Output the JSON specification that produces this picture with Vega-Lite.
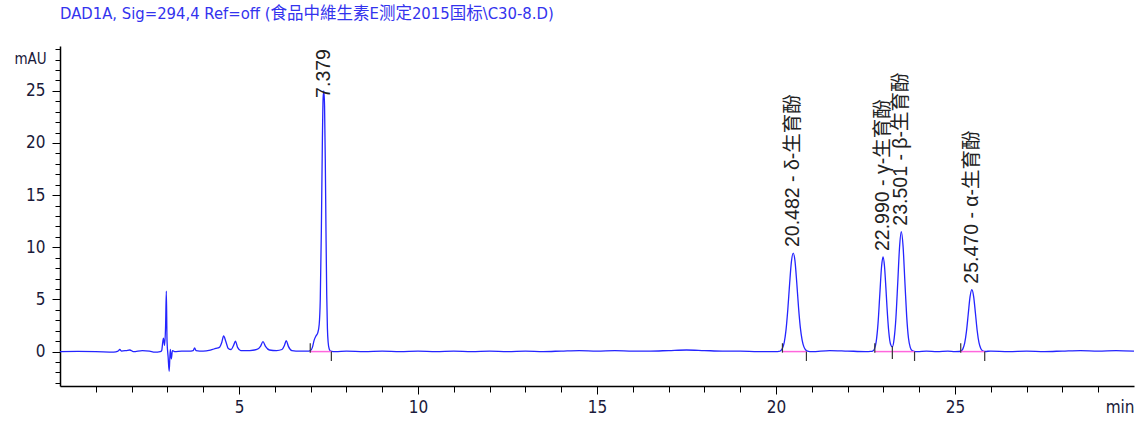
{
  "$schema": "https://vega.github.io/schema/vega-lite/v6.json",
  "autosize": {"type": "none"},
  "width": 1074,
  "height": 340,
  "padding": {"left": 60, "top": 46, "right": 3, "bottom": 36},
  "background": "white",
  "title": {
    "text": "DAD1A, Sig=294,4 Ref=off (食品中維生素E测定2015国标\\C30-8.D)",
    "anchor": "start",
    "frame": "group",
    "offset": 18,
    "color": "#3333ee",
    "font": "'Liberation Sans Narrow', 'DejaVu Sans Condensed', 'Noto Sans CJK SC', sans-serif",
    "fontSize": 16.5,
    "fontWeight": "normal"
  },
  "config": {
    "view": {"stroke": null},
    "axis": {
      "domainColor": "#000000",
      "domainWidth": 1.5,
      "tickColor": "#000000",
      "tickWidth": 1,
      "grid": false,
      "labelFont": "'Liberation Sans Narrow', 'DejaVu Sans Condensed', sans-serif",
      "labelFontSize": 17,
      "labelColor": "#1a1a3a",
      "labelOverlap": false
    }
  },
  "datasets": {
    "signal": [
      {"t": 0.00, "v": 0.0}, {"t": 0.50, "v": 0.02}, {"t": 1.00, "v": 0.0}, {"t": 1.50, "v": -0.05},
      {"t": 1.62, "v": 0.05}, {"t": 1.67, "v": 0.2}, {"t": 1.72, "v": 0.05}, {"t": 1.85, "v": 0.1},
      {"t": 1.95, "v": 0.15}, {"t": 2.05, "v": 0.0}, {"t": 2.30, "v": 0.1}, {"t": 2.50, "v": 0.05},
      {"t": 2.65, "v": -0.05}, {"t": 2.80, "v": 0.0}, {"t": 2.84, "v": 0.1}, {"t": 2.87, "v": 0.9},
      {"t": 2.89, "v": 1.3}, {"t": 2.92, "v": 0.6}, {"t": 2.95, "v": 2.5}, {"t": 2.97, "v": 5.8},
      {"t": 2.99, "v": 1.0}, {"t": 3.02, "v": -0.5}, {"t": 3.05, "v": -1.9}, {"t": 3.08, "v": 0.2},
      {"t": 3.11, "v": -0.7}, {"t": 3.14, "v": 0.1}, {"t": 3.20, "v": 0.0}, {"t": 3.40, "v": 0.05},
      {"t": 3.60, "v": 0.05}, {"t": 3.72, "v": 0.1}, {"t": 3.76, "v": 0.35}, {"t": 3.80, "v": 0.1},
      {"t": 4.00, "v": 0.05}, {"t": 4.20, "v": 0.15}, {"t": 4.35, "v": 0.3}, {"t": 4.45, "v": 0.4},
      {"t": 4.52, "v": 0.9}, {"t": 4.57, "v": 1.5}, {"t": 4.63, "v": 1.0}, {"t": 4.70, "v": 0.3},
      {"t": 4.78, "v": 0.2}, {"t": 4.85, "v": 0.6}, {"t": 4.90, "v": 1.0}, {"t": 4.96, "v": 0.4},
      {"t": 5.05, "v": 0.1}, {"t": 5.30, "v": 0.1}, {"t": 5.50, "v": 0.2}, {"t": 5.60, "v": 0.5},
      {"t": 5.67, "v": 0.95}, {"t": 5.74, "v": 0.5}, {"t": 5.85, "v": 0.15}, {"t": 6.05, "v": 0.1},
      {"t": 6.20, "v": 0.2}, {"t": 6.27, "v": 0.6}, {"t": 6.32, "v": 1.05}, {"t": 6.38, "v": 0.5},
      {"t": 6.48, "v": 0.1}, {"t": 6.70, "v": 0.05}, {"t": 6.95, "v": 0.05}, {"t": 7.00, "v": 0.1},
      {"t": 7.05, "v": 0.4}, {"t": 7.10, "v": 1.1}, {"t": 7.15, "v": 1.5}, {"t": 7.20, "v": 1.8},
      {"t": 7.24, "v": 2.6}, {"t": 7.27, "v": 5.0}, {"t": 7.30, "v": 11.5}, {"t": 7.33, "v": 20.5},
      {"t": 7.35, "v": 24.3}, {"t": 7.37, "v": 25.0}, {"t": 7.39, "v": 23.5}, {"t": 7.41, "v": 18.5},
      {"t": 7.43, "v": 11.5}, {"t": 7.45, "v": 5.5}, {"t": 7.47, "v": 2.2}, {"t": 7.49, "v": 0.9},
      {"t": 7.52, "v": 0.25}, {"t": 7.56, "v": 0.05}, {"t": 7.70, "v": 0.0}, {"t": 8.00, "v": 0.05},
      {"t": 8.50, "v": 0.0}, {"t": 9.00, "v": 0.05}, {"t": 9.50, "v": 0.0}, {"t": 10.00, "v": 0.05},
      {"t": 10.50, "v": 0.0}, {"t": 11.00, "v": 0.05}, {"t": 11.50, "v": 0.0}, {"t": 12.00, "v": 0.05},
      {"t": 12.50, "v": 0.0}, {"t": 13.00, "v": 0.05}, {"t": 13.50, "v": 0.0}, {"t": 14.00, "v": 0.05},
      {"t": 14.50, "v": 0.1}, {"t": 15.00, "v": 0.05}, {"t": 15.50, "v": 0.1}, {"t": 16.00, "v": 0.05},
      {"t": 16.50, "v": 0.05}, {"t": 17.00, "v": 0.1}, {"t": 17.50, "v": 0.15}, {"t": 18.00, "v": 0.1},
      {"t": 18.50, "v": 0.05}, {"t": 19.00, "v": 0.05}, {"t": 19.50, "v": 0.0}, {"t": 20.00, "v": 0.0},
      {"t": 20.08, "v": 0.02}, {"t": 20.13, "v": 0.09}, {"t": 20.18, "v": 0.32}, {"t": 20.23, "v": 0.89},
      {"t": 20.28, "v": 2.08}, {"t": 20.33, "v": 4.03}, {"t": 20.38, "v": 6.48}, {"t": 20.43, "v": 8.6},
      {"t": 20.48, "v": 9.45}, {"t": 20.53, "v": 8.7}, {"t": 20.58, "v": 6.6}, {"t": 20.63, "v": 4.2},
      {"t": 20.68, "v": 2.3}, {"t": 20.73, "v": 1.1}, {"t": 20.78, "v": 0.45}, {"t": 20.83, "v": 0.15},
      {"t": 20.88, "v": 0.05}, {"t": 21.00, "v": 0.0}, {"t": 21.50, "v": 0.1}, {"t": 22.00, "v": 0.05},
      {"t": 22.50, "v": 0.0}, {"t": 22.65, "v": 0.02}, {"t": 22.70, "v": 0.05}, {"t": 22.75, "v": 0.26},
      {"t": 22.80, "v": 0.98}, {"t": 22.85, "v": 2.7}, {"t": 22.90, "v": 5.5}, {"t": 22.95, "v": 8.2},
      {"t": 22.99, "v": 9.07}, {"t": 23.03, "v": 8.2}, {"t": 23.07, "v": 6.1}, {"t": 23.10, "v": 4.3},
      {"t": 23.15, "v": 1.9}, {"t": 23.20, "v": 0.7}, {"t": 23.25, "v": 0.45}, {"t": 23.30, "v": 1.25},
      {"t": 23.35, "v": 3.25}, {"t": 23.40, "v": 6.54}, {"t": 23.45, "v": 9.96}, {"t": 23.50, "v": 11.5},
      {"t": 23.55, "v": 10.06}, {"t": 23.60, "v": 6.7}, {"t": 23.65, "v": 3.4}, {"t": 23.70, "v": 1.3},
      {"t": 23.75, "v": 0.4}, {"t": 23.80, "v": 0.1}, {"t": 23.85, "v": 0.03}, {"t": 23.95, "v": 0.0},
      {"t": 24.20, "v": 0.05}, {"t": 24.50, "v": 0.0}, {"t": 24.80, "v": 0.05}, {"t": 25.00, "v": 0.0},
      {"t": 25.12, "v": 0.01}, {"t": 25.17, "v": 0.07}, {"t": 25.22, "v": 0.26}, {"t": 25.27, "v": 0.8},
      {"t": 25.32, "v": 1.93}, {"t": 25.37, "v": 3.6}, {"t": 25.42, "v": 5.24}, {"t": 25.47, "v": 5.94},
      {"t": 25.52, "v": 5.3}, {"t": 25.57, "v": 3.7}, {"t": 25.62, "v": 2.0}, {"t": 25.67, "v": 0.85},
      {"t": 25.72, "v": 0.3}, {"t": 25.77, "v": 0.08}, {"t": 25.84, "v": 0.01}, {"t": 26.00, "v": 0.05},
      {"t": 26.50, "v": 0.0}, {"t": 27.00, "v": 0.05}, {"t": 27.50, "v": 0.0}, {"t": 28.00, "v": 0.05},
      {"t": 28.50, "v": 0.1}, {"t": 29.00, "v": 0.05}, {"t": 29.50, "v": 0.1}, {"t": 30.00, "v": 0.05}
    ],
    "baselines": [
      {"start": 6.99, "end": 7.58},
      {"start": 20.18, "end": 20.85},
      {"start": 22.76, "end": 23.25},
      {"start": 23.25, "end": 23.87},
      {"start": 25.16, "end": 25.83}
    ],
    "marks": [
      {"t": 6.99, "lo": -0.1, "hi": 0.8},
      {"t": 7.58, "lo": -0.9, "hi": 0.0},
      {"t": 20.18, "lo": -0.1, "hi": 0.8},
      {"t": 20.85, "lo": -0.9, "hi": 0.0},
      {"t": 22.76, "lo": -0.1, "hi": 0.8},
      {"t": 23.25, "lo": -0.7, "hi": 0.5},
      {"t": 23.87, "lo": -0.9, "hi": 0.0},
      {"t": 25.16, "lo": -0.1, "hi": 0.8},
      {"t": 25.83, "lo": -0.9, "hi": 0.0}
    ],
    "labels": [
      {"t": 7.379, "h": 23.75, "label": "7.379"},
      {"t": 20.482, "h": 9.45, "label": "20.482 - δ-生育酚"},
      {"t": 22.99, "h": 9.07, "label": "22.990 - γ-生育酚"},
      {"t": 23.501, "h": 11.5, "label": "23.501 - β-生育酚"},
      {"t": 25.47, "h": 5.94, "label": "25.470 - α-生育酚"}
    ]
  },
  "layer": [
    {
      "data": {"name": "signal"},
      "mark": {"type": "line", "color": "#2424ff", "strokeWidth": 1.3, "interpolate": "monotone", "clip": true},
      "encoding": {
        "x": {
          "field": "t", "type": "quantitative",
          "scale": {"domain": [0, 30], "nice": false, "zero": false},
          "axis": {
            "title": null,
            "format": "d",
            "values": [1,2,3,4,5,6,7,8,9,10,11,12,13,14,15,16,17,18,19,20,21,22,23,24,25,26,27,28,29,30],
            "tickCount": 200,
            "tickSize": {"condition": {"test": "datum.value % 5 === 0", "value": 8}, "value": 6},
            "tickColor": {"condition": {"test": "datum.value === 30", "value": "transparent"}, "value": "#000000"},
            "labelExpr": "datum.value === 30 ? 'min' : (datum.value % 5 === 0 ? datum.label : '')",
            "labelAlign": {"condition": {"test": "datum.value === 30", "value": "right"}, "value": "center"},
            "labelPadding": 5,
            "labelFlush": false,
            "labelOverlap": false,
            "labelBound": false
          }
        },
        "y": {
          "field": "v", "type": "quantitative",
          "scale": {"domain": [-3.3, 29.3], "nice": false, "zero": false},
          "axis": {
            "title": "mAU",
            "titleAngle": 0,
            "titleX": -30,
            "titleY": 12,
            "titleAlign": "center",
            "titleBaseline": "middle",
            "titleFont": "'Liberation Sans Narrow', 'DejaVu Sans Condensed', sans-serif",
            "titleFontSize": 15,
            "titleFontWeight": "normal",
            "titleColor": "#1a1a3a",
            "format": "d",
            "values": [-3,-2,-1,0,1,2,3,4,5,6,7,8,9,10,11,12,13,14,15,16,17,18,19,20,21,22,23,24,25,26,27,28,29],
            "tickCount": 200,
            "tickSize": {"condition": {"test": "datum.value % 5 === 0", "value": 8}, "value": 5},
            "labelExpr": "datum.value % 5 === 0 ? datum.label : ''",
            "labelPadding": 7,
            "labelOverlap": false,
            "labelBound": false
          }
        }
      }
    },
    {
      "data": {"name": "baselines"},
      "mark": {"type": "rule", "color": "#ff66dd", "strokeWidth": 1.5},
      "encoding": {
        "x": {"field": "start", "type": "quantitative"},
        "x2": {"field": "end"},
        "y": {"datum": 0, "type": "quantitative"}
      }
    },
    {
      "data": {"name": "marks"},
      "mark": {"type": "rule", "color": "#333333", "strokeWidth": 1.2},
      "encoding": {
        "x": {"field": "t", "type": "quantitative"},
        "y": {"field": "lo", "type": "quantitative"},
        "y2": {"field": "hi"}
      }
    },
    {
      "data": {"name": "labels"},
      "mark": {"type": "text", "angle": 270, "align": "left", "baseline": "middle", "dx": 6, "font": "'Liberation Sans', 'Noto Sans CJK SC', sans-serif", "fontSize": 19.5, "color": "#222222"},
      "encoding": {
        "x": {"field": "t", "type": "quantitative"},
        "y": {"field": "h", "type": "quantitative"},
        "text": {"field": "label"}
      }
    }
  ]
}
